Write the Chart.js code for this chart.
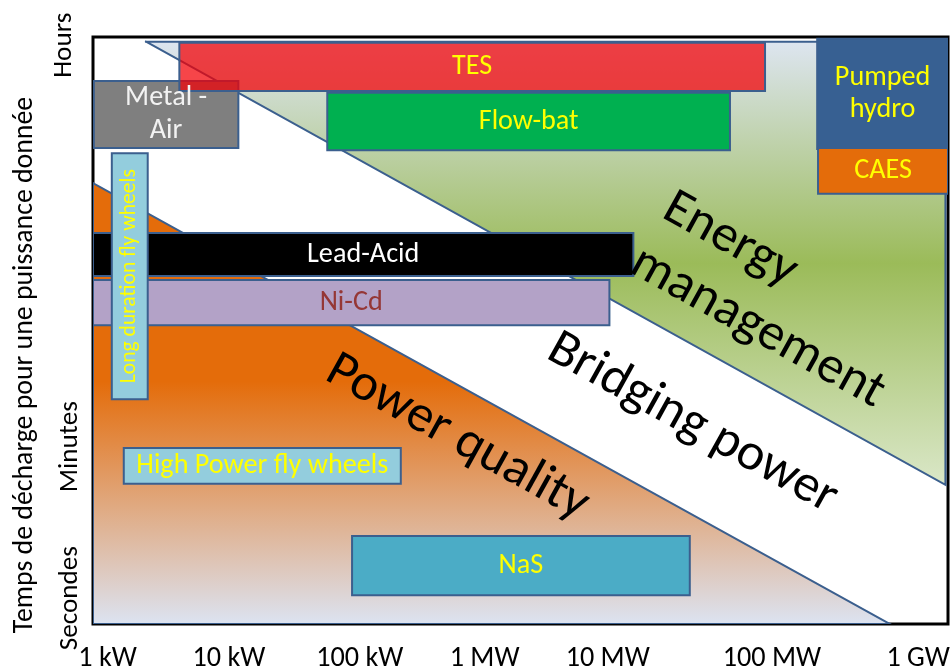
<!DOCTYPE html>
<html>
<head>
<meta charset="utf-8">
<script src="https://cdn.jsdelivr.net/npm/chart.js@4.4.0/dist/chart.umd.min.js"></script>
<style>
  html, body { margin: 0; padding: 0; background: #fff; }
  #wrap { width: 951px; height: 666px; }
</style>
</head>
<body>
<div id="wrap"><canvas id="chart"></canvas></div>
<script>
// x runs 0..100 along the power axis (labels are not evenly spaced),
// y runs 0..100 from seconds (bottom) up to hours (top)
const powerLabels = ["1 kW", "10 kW", "100 kW", "1 MW", "10 MW", "100 MW", "1 GW"];
const powerTicks = [1.7, 15.9, 31.2, 45.8, 60.2, 79.4, 96.5];
const timeLabels = ["Secondes", "Minutes", "Hours"];
const timeTicks = [4.4, 30.2, 98.6];
const yTitle = "Temps de décharge pour une puissance donnée";

// storage technologies: power range and discharge time range
const techs = ["TES", "Metal -\nAir", "Flow-bat", "Pumped\nhydro", "CAES",
  "Long duration fly wheels", "Lead-Acid", "Ni-Cd", "High Power fly wheels", "NaS"];
const powerFrom = [10.1, 0.1, 27.4, 84.7, 84.8, 2.2, 0, 0, 3.6, 30.3];
const powerTo = [78.6, 17.0, 74.5, 100.4, 100, 6.4, 63.2, 60.4, 36.0, 69.8];
const timeFrom = [90.8, 81.1, 80.7, 80.9, 73.3, 38.3, 59.3, 50.9, 23.9, 4.9];
const timeTo = [99.0, 92.5, 90.5, 99.7, 81.1, 80.2, 66.6, 58.6, 30.0, 15.0];

// application zones (triangles)
const zones = ["Power quality", "Energy management"];
const zoneX = [[0, 0, 93.2], [6.2, 99.7, 99.7]];
const zoneY = [[75.1, 0, 0], [99.2, 99.2, 23.7]];

// styles
const techFill = ["rgba(242, 0, 6, 0.73)", "#7f7f7f", "#00b050", "#376092", "#e46c0a",
  "#93cddd", "#000000", "#b3a2c7", "#93cddd", "#4bacc6"];
const techText = ["#ffff00", "#f2f2f2", "#ffff00", "#ffff00", "#ffff00",
  "#ffff00", "#ffffff", "#953735", "#ffff00", "#ffff00"];
const techOrder = [1, 5, 5, 5, 4, 2, 5, 5, 5, 5];
const zoneStops = [
  [[0, "#e46c0a"], [0.45, "#e46c0a"], [1, "#dce3f1"]],
  [[0, "#dde5f0"], [0.5, "#9bbb59"], [1, "#dae7c8"]],
];
const EDGE = "#3b5f8e";
const FONT = "Carlito, Lato, sans-serif";

// the original uses Calibri; scale the fallback font so text widths match
const probe = document.createElement("canvas").getContext("2d");
probe.font = "100px " + FONT;
const k = 1940.5 / probe.measureText(yTitle).width;
const fs = (s) => Math.round(s * k * 10) / 10;

const rect = (i) => [
  { x: powerFrom[i], y: timeFrom[i] },
  { x: powerTo[i], y: timeFrom[i] },
  { x: powerTo[i], y: timeTo[i] },
  { x: powerFrom[i], y: timeTo[i] },
  { x: powerFrom[i], y: timeFrom[i] },
];

const zoneGradient = (i) => (c) => {
  const chart = c.chart;
  if (!chart.chartArea) return zoneStops[i][0][1];
  const y = chart.scales.y;
  const top = y.getPixelForValue(Math.max(...zoneY[i]));
  const bot = y.getPixelForValue(Math.min(...zoneY[i]));
  const g = chart.ctx.createLinearGradient(0, top, 0, bot);
  zoneStops[i].forEach(([p, col]) => g.addColorStop(p, col));
  return g;
};

const datasets = [];
zones.forEach((name, i) => {
  const pts = zoneX[i].map((x, j) => ({ x, y: zoneY[i][j] }));
  pts.push(pts[0]);
  datasets.push({
    label: name,
    data: pts,
    backgroundColor: zoneGradient(i),
    borderColor: EDGE,
    borderWidth: 2,
    order: 20 - i,
  });
});
techs.forEach((name, i) => {
  datasets.push({
    label: name,
    data: rect(i),
    backgroundColor: techFill[i],
    borderColor: EDGE,
    borderWidth: 2,
    order: techOrder[i],
  });
});

const decor = {
  id: "decor",
  beforeDatasetsDraw(chart) {
    const { ctx, chartArea: a } = chart;
    ctx.save();
    ctx.strokeStyle = "#000";
    ctx.lineWidth = 3;
    ctx.strokeRect(a.left, a.top, a.width, a.height);
    ctx.restore();
  },
  afterDatasetsDraw(chart) {
    const { ctx, scales: { x, y } } = chart;
    ctx.save();
    ctx.textAlign = "center";
    ctx.textBaseline = "middle";

    // zone names follow the diagonal
    const ang = Math.atan2(
      y.getPixelForValue(zoneY[0][2]) - y.getPixelForValue(zoneY[0][0]),
      x.getPixelForValue(zoneX[0][2]) - x.getPixelForValue(zoneX[0][0]));
    const zoneText = [
      ["Power quality", 42.6, 31.7],
      ["Bridging power", 70.1, 34.1],
      ["Energy", 74.5, 65.4],
      ["management", 77.7, 50.4],
    ];
    ctx.fillStyle = "#000";
    ctx.font = fs(52) + "px " + FONT;
    zoneText.forEach(([t, vx, vy]) => {
      ctx.save();
      ctx.translate(x.getPixelForValue(vx), y.getPixelForValue(vy));
      ctx.rotate(ang);
      ctx.fillText(t, 0, 0);
      ctx.restore();
    });

    // technology names in the middle of their boxes
    techs.forEach((t, i) => {
      const cx = x.getPixelForValue((powerFrom[i] + Math.min(powerTo[i], 100)) / 2);
      const cy = y.getPixelForValue((timeFrom[i] + timeTo[i]) / 2);
      ctx.fillStyle = techText[i];
      ctx.save();
      ctx.translate(cx, cy);
      if (t.startsWith("Long")) {
        ctx.rotate(-Math.PI / 2);
        ctx.font = fs(21.5) + "px " + FONT;
      } else {
        ctx.font = fs(28) + "px " + FONT;
      }
      const lines = t.split("\n");
      const lh = fs(32);
      lines.forEach((ln, j) => {
        ctx.fillText(ln, 0, (j - (lines.length - 1) / 2) * lh);
      });
      ctx.restore();
    });
    ctx.restore();
  },
  afterDraw(chart) {
    const { ctx, scales: { y } } = chart;
    const yLabelX = [70, 70, 64];
    ctx.save();
    ctx.fillStyle = "#000";
    ctx.textAlign = "center";
    ctx.textBaseline = "middle";
    ctx.font = fs(27) + "px " + FONT;
    timeLabels.forEach((t, i) => {
      ctx.save();
      ctx.translate(yLabelX[i], y.getPixelForValue(timeTicks[i]));
      ctx.rotate(-Math.PI / 2);
      ctx.fillText(t, 0, 0);
      ctx.restore();
    });
    ctx.font = fs(27.6) + "px " + FONT;
    ctx.translate(25, 365);
    ctx.rotate(-Math.PI / 2);
    ctx.fillText(yTitle, 0, 0);
    ctx.restore();
  },
};

new Chart(document.getElementById("chart"), {
  type: "line",
  data: { datasets },
  plugins: [decor],
  options: {
    responsive: true,
    maintainAspectRatio: false,
    animation: false,
    events: [],
    layout: { padding: { top: 37, right: 3, left: 0, bottom: 0 } },
    elements: {
      line: { fill: "shape", tension: 0, borderJoinStyle: "miter", borderCapStyle: "square" },
      point: { radius: 0, hitRadius: 0, hoverRadius: 0 },
    },
    plugins: {
      legend: { display: false },
      tooltip: { enabled: false },
    },
    scales: {
      x: {
        type: "linear",
        min: 0,
        max: 100,
        grid: { display: false, drawTicks: false },
        border: { display: false },
        afterBuildTicks: (s) => { s.ticks = powerTicks.map((v) => ({ value: v })); },
        afterFit: (s) => {
          // labels may hang past the plot edges, as in the original
          s.height = 42;
          s.paddingLeft = 0;
          s.paddingRight = 0;
        },
        ticks: {
          callback: (v, i) => powerLabels[i],
          color: "#000",
          font: { family: FONT, size: fs(28) },
          padding: 18,
          autoSkip: false,
          maxRotation: 0,
        },
      },
      y: {
        type: "linear",
        min: 0,
        max: 100,
        grid: { display: false, drawTicks: false },
        border: { display: false },
        ticks: { display: false },
        afterFit: (s) => { s.width = 93; },
      },
    },
  },
});
</script>
</body>
</html>
